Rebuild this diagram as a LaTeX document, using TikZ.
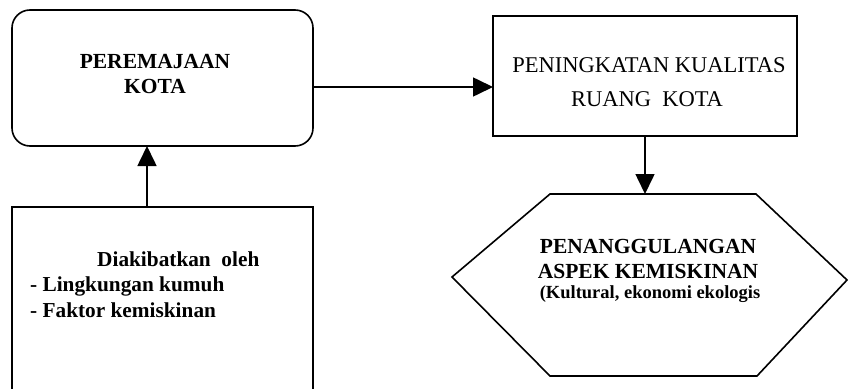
\documentclass[tikz,border=0pt]{standalone}
\usepackage{fontspec}
\setmainfont{Liberation Serif}
\usetikzlibrary{arrows.meta}
\begin{document}
\begin{tikzpicture}[x=1pt,y=-1pt,
  frame/.style={draw, line width=1.6pt, inner sep=0pt, outer sep=0pt},
  flow/.style={line width=1.6pt, -{Triangle[length=20pt,width=19pt]}},
  bigb/.style={font=\fontsize{21.5}{24}\selectfont\bfseries, inner sep=0pt, anchor=base},
  bigr/.style={font=\fontsize{22.5}{24}\selectfont, inner sep=0pt, anchor=base},
  smallb/.style={font=\fontsize{18.5}{20}\selectfont\bfseries, inner sep=0pt, anchor=base},
  listb/.style={font=\fontsize{21.3}{24}\selectfont\bfseries, inner sep=0pt, anchor=base west}]
\useasboundingbox (0,0) rectangle (848,388);
\clip (0,0) rectangle (848,388);

% boxes
\node[frame, rounded corners=18pt, minimum width=301pt, minimum height=136pt] (renew) at (162.5,78) {};
\node[frame, minimum width=304pt, minimum height=120pt] (quality) at (645,76) {};
\node[frame, minimum width=301pt, minimum height=230pt] (cause) at (162.5,322) {};

% hexagon
\coordinate (hexTop) at (645,194);
\draw[line width=1.6pt] (550,194) -- (756,194) -- (847,280) -- (757,376) -- (550,376) -- (452,277) -- cycle;

% labels
\node[bigb] (t1) at (155,68) {PEREMAJAAN};
\node[bigb] (t2) at (155,93) {KOTA};
\node[bigr] (t3) at (649,72) {PENINGKATAN KUALITAS};
\node[bigr] (t4) at (647,106) {RUANG\ \ KOTA};
\node[bigb] (t5) at (648,253) {PENANGGULANGAN};
\node[bigb] (t6) at (648,278) {ASPEK KEMISKINAN};
\node[smallb] (t7) at (650,298) {(Kultural, ekonomi ekologis};
\node[listb] (t8) at (97,266) {Diakibatkan\ \ oleh};
\node[listb] (t9) at (30,291) {- Lingkungan kumuh};
\node[listb] (t10) at (30,317) {- Faktor kemiskinan};

% connectors
\draw[flow] ([yshift=-9pt]renew.east) -- ([yshift=-9pt]renew.east -| quality.west);
\draw[flow] ([xshift=-15.5pt]cause.north) -- ([xshift=-15.5pt]cause.north |- renew.south);
\draw[flow] (quality.south) -- (hexTop);
\end{tikzpicture}
\end{document}
